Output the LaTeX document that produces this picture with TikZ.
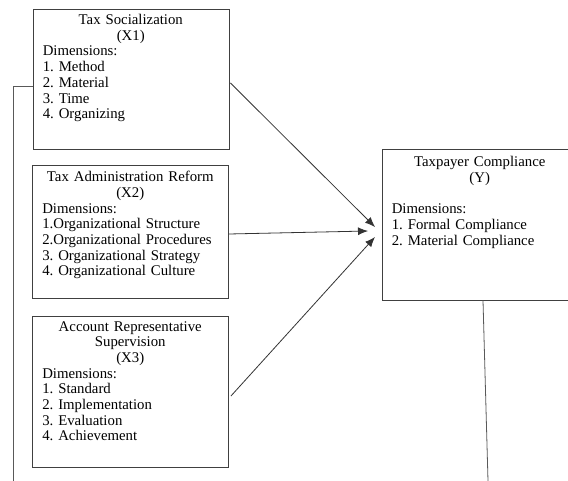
\documentclass[tikz,border=0pt]{standalone}
\usepackage{fontspec}
\setmainfont{Liberation Serif}
\usetikzlibrary{arrows.meta,calc}
\frenchspacing
\begin{document}
\begin{tikzpicture}[x=1pt,y=-1pt,
 box/.style={draw=black!75, line width=0.9pt, minimum width=196pt, inner sep=0pt},
 txt/.style={anchor=north west, inner xsep=10pt, inner ysep=0pt, text width=176pt, align=left, font=\fontsize{14.8}{15.7}\selectfont\frenchspacing},
 link/.style={draw=black!65, line width=0.8pt},
 arr/.style={link, draw=black!80, -{Latex[length=10pt,width=8pt]}}]
\clip (0,0) rectangle (568,481);
\fill[white] (0,0) rectangle (568,481);
% boxes
\node[box, minimum height=140pt] (X1) at (131,79) {};
\node[box, minimum height=133pt] (X2) at (130.5,231.5) {};
\node[box, minimum height=151pt] (X3) at (130.5,391.5) {};
\node[box, minimum height=151pt] (Y) at (480,224.5) {};
% texts
\node[txt] (T1) at ($(X1.north west)+(0,5.5)$) {\makebox[176pt]{Tax Socialization}\\\makebox[176pt]{(X1)}\\Dimensions:\\1. Method\\2. Material\\3. Time\\4. Organizing};
\node[txt] (T2) at ($(X2.north west)+(0,6.5)$) {\makebox[176pt]{Tax Administration Reform}\\\makebox[176pt]{(X2)}\\Dimensions:\\1.Organizational Structure\\2.Organizational Procedures\\3. Organizational Strategy\\4. Organizational Culture};
\node[txt] (T3) at ($(X3.north west)+(0,5.5)$) {\makebox[176pt]{Account Representative}\\\makebox[176pt]{Supervision}\\\makebox[176pt]{(X3)}\\Dimensions:\\1. Standard\\2. Implementation\\3. Evaluation\\4. Achievement};
\node[txt] (TY) at ($(Y.north west)+(0,7.5)$) {\makebox[176pt]{Taxpayer Compliance}\\\makebox[176pt]{(Y)}\\[15.7pt]Dimensions:\\1. Formal Compliance\\2. Material Compliance};
% arrow targets and free ends
\coordinate (t1) at (375,227);
\coordinate (t2) at (368,231);
\coordinate (t3) at (375,237);
\coordinate (lb) at (13,481);
\coordinate (rb) at (488,481);
% connectors
\draw[arr] ($(X1.east)+(1,4)$) -- (t1);
\draw[arr] ($(X2.east)+(0,2.5)$) -- (t2);
\draw[arr] ($(X3.east)+(2,4.5)$) -- (t3);
\draw[link] ($(X1.west)+(0,7)$) -| (lb);
\draw[link] ($(Y.south)+(3,0)$) -- (rb);
\end{tikzpicture}
\end{document}
